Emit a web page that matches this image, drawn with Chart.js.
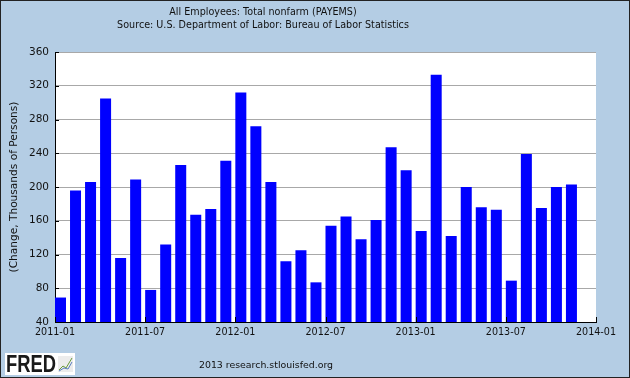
<!DOCTYPE html>
<html>
<head>
<meta charset="utf-8">
<script src="https://cdn.jsdelivr.net/npm/chart.js@4.4.0/dist/chart.umd.min.js"></script>
<style>
  html, body { margin: 0; padding: 0; background: #b4cde4; }
  #wrap { width: 630px; height: 378px; position: relative; }
</style>
</head>
<body>
<div id="wrap"><canvas id="plotPayems" width="630" height="378"></canvas></div>
<script>
// Dados: variacao mensal do emprego (milhares de pessoas)
const months = [
  '2011-01','2011-02','2011-03','2011-04','2011-05','2011-06',
  '2011-07','2011-08','2011-09','2011-10','2011-11','2011-12',
  '2012-01','2012-02','2012-03','2012-04','2012-05','2012-06',
  '2012-07','2012-08','2012-09','2012-10','2012-11','2012-12',
  '2013-01','2013-02','2013-03','2013-04','2013-05','2013-06',
  '2013-07','2013-08','2013-09','2013-10','2013-11'
];
const changes = [
  69, 196, 206, 305, 116, 209, 78, 132, 226, 167, 174, 231,
  312, 272, 206, 112, 125, 87, 154, 165, 138, 161, 247, 220,
  148, 333, 142, 200, 176, 173, 89, 239, 175, 200, 203
];
const xTickLabels = ['2011-01','2011-07','2012-01','2012-07','2013-01','2013-07','2014-01'];
const yTicks = [40, 80, 120, 160, 200, 240, 280, 320, 360];

const titleLines = [
  'All Employees: Total nonfarm (PAYEMS)',
  'Source: U.S. Department of Labor: Bureau of Labor Statistics'
];
const footerText = '2013 research.stlouisfed.org';

const FONT = 'DejaVu Sans';
const bg = '#b4cde4';

// fundo, area branca, titulo, rodape e marcas internas dos eixos
const decorPlugin = {
  id: 'decor',
  beforeDraw(chart) {
    const ctx = chart.ctx;
    const a = chart.chartArea;
    ctx.save();
    ctx.fillStyle = bg;
    ctx.fillRect(0, 0, chart.width, chart.height);
    ctx.fillStyle = '#ffffff';
    ctx.fillRect(a.left, a.top, a.right - a.left, a.bottom - a.top);
    ctx.restore();
  },
  afterDraw(chart) {
    const ctx = chart.ctx;
    const a = chart.chartArea;
    const xs = chart.scales.x;
    const ys = chart.scales.y;
    ctx.save();
    // marcas dos eixos (para dentro)
    ctx.strokeStyle = '#000';
    ctx.lineWidth = 1;
    ctx.beginPath();
    xs.ticks.forEach(t => {
      const px = Math.round(xs.getPixelForValue(t.value)) + 0.5;
      ctx.moveTo(px, a.bottom);
      ctx.lineTo(px, a.bottom - 5);
    });
    ys.ticks.forEach(t => {
      const py = Math.round(ys.getPixelForValue(t.value)) + 0.5;
      ctx.moveTo(a.left, py);
      ctx.lineTo(a.left + 4, py);
    });
    ctx.stroke();

    // titulo
    ctx.fillStyle = '#111';
    ctx.font = '9.6px "' + FONT + '"';
    ctx.textAlign = 'center';
    ctx.textBaseline = 'middle';
    ctx.fillText(titleLines[0], 263, 12);
    ctx.fillText(titleLines[1], 263, 25);
    // rodape
    ctx.font = '9.4px "' + FONT + '"';
    ctx.fillText(footerText, 266, 366);

    // logo FRED
    ctx.fillStyle = '#ffffff';
    ctx.fillRect(5, 353, 70, 22);
    ctx.fillStyle = '#1a1a1a';
    ctx.font = 'bold 23px "Liberation Sans"';
    ctx.textAlign = 'left';
    ctx.textBaseline = 'alphabetic';
    const w = ctx.measureText('FRED').width;
    ctx.translate(6, 372);
    ctx.scale(50 / w, 1);
    ctx.fillText('FRED', 0, 0);
    ctx.setTransform(1, 0, 0, 1, 0, 0);
    ctx.fillStyle = '#ececec';
    ctx.fillRect(58, 356, 15, 16);
    ctx.lineWidth = 1;
    ctx.strokeStyle = '#6a9a3a';
    ctx.beginPath();
    ctx.moveTo(59, 370); ctx.lineTo(63, 366); ctx.lineTo(66, 368); ctx.lineTo(72, 358);
    ctx.stroke();
    ctx.strokeStyle = '#5a7fc0';
    ctx.beginPath();
    ctx.moveTo(59, 371); ctx.lineTo(64, 368); ctx.lineTo(68, 369); ctx.lineTo(72, 362);
    ctx.stroke();

    // borda externa
    ctx.strokeStyle = '#222';
    ctx.strokeRect(0.5, 0.5, chart.width - 1, chart.height - 1);
    ctx.restore();
  }
};

const barData = changes.map((v, i) => ({ x: i, y: v }));

new Chart(document.getElementById('plotPayems'), {
  type: 'bar',
  data: {
    datasets: [{
      label: 'PAYEMS',
      data: barData,
      xAxisID: 'xb',
      yAxisID: 'y',
      backgroundColor: '#0000ff',
      borderWidth: 0,
      categoryPercentage: 1,
      barPercentage: 0.732
    }]
  },
  options: {
    responsive: false,
    animation: false,
    devicePixelRatio: 1,
    layout: { padding: { left: 0, right: 34, top: 52, bottom: 40 } },
    plugins: {
      legend: { display: false },
      tooltip: { enabled: false },
      title: { display: false }
    },
    scales: {
      x: {
        type: 'linear',
        position: 'bottom',
        min: 0,
        max: 36,
        offset: false,
        afterFit(scale) { scale.height = 16; },
        afterBuildTicks(scale) {
          scale.ticks = xTickLabels.map((l, i) => ({ value: i * 6 }));
        },
        ticks: {
          autoSkip: false,
          maxRotation: 0,
          padding: 5,
          color: '#111',
          font: { family: FONT, size: 9.6 },
          callback: (v) => xTickLabels[v / 6]
        },
        grid: { display: false, drawTicks: false, offset: false },
        border: { display: true, color: '#000', width: 1 }
      },
      xb: {
        type: 'linear',
        display: false,
        min: -0.366,
        max: 35.634,
        offset: false,
        grid: { offset: false }
      },
      y: {
        type: 'linear',
        position: 'left',
        min: 40,
        max: 360,
        afterFit(scale) { scale.width = 55; },
        afterBuildTicks(scale) {
          scale.ticks = yTicks.map(v => ({ value: v }));
        },
        ticks: {
          padding: 6,
          color: '#111',
          font: { family: FONT, size: 10.5 }
        },
        grid: { color: '#a8a8a8', drawTicks: false, lineWidth: 1 },
        border: { display: true, color: '#000', width: 1 },
        title: {
          display: true,
          text: '(Change, Thousands of Persons)',
          color: '#111',
          font: { family: FONT, size: 10.6 },
          padding: { top: 8, bottom: 0 }
        }
      }
    }
  },
  plugins: [decorPlugin]
});
</script>
</body>
</html>
